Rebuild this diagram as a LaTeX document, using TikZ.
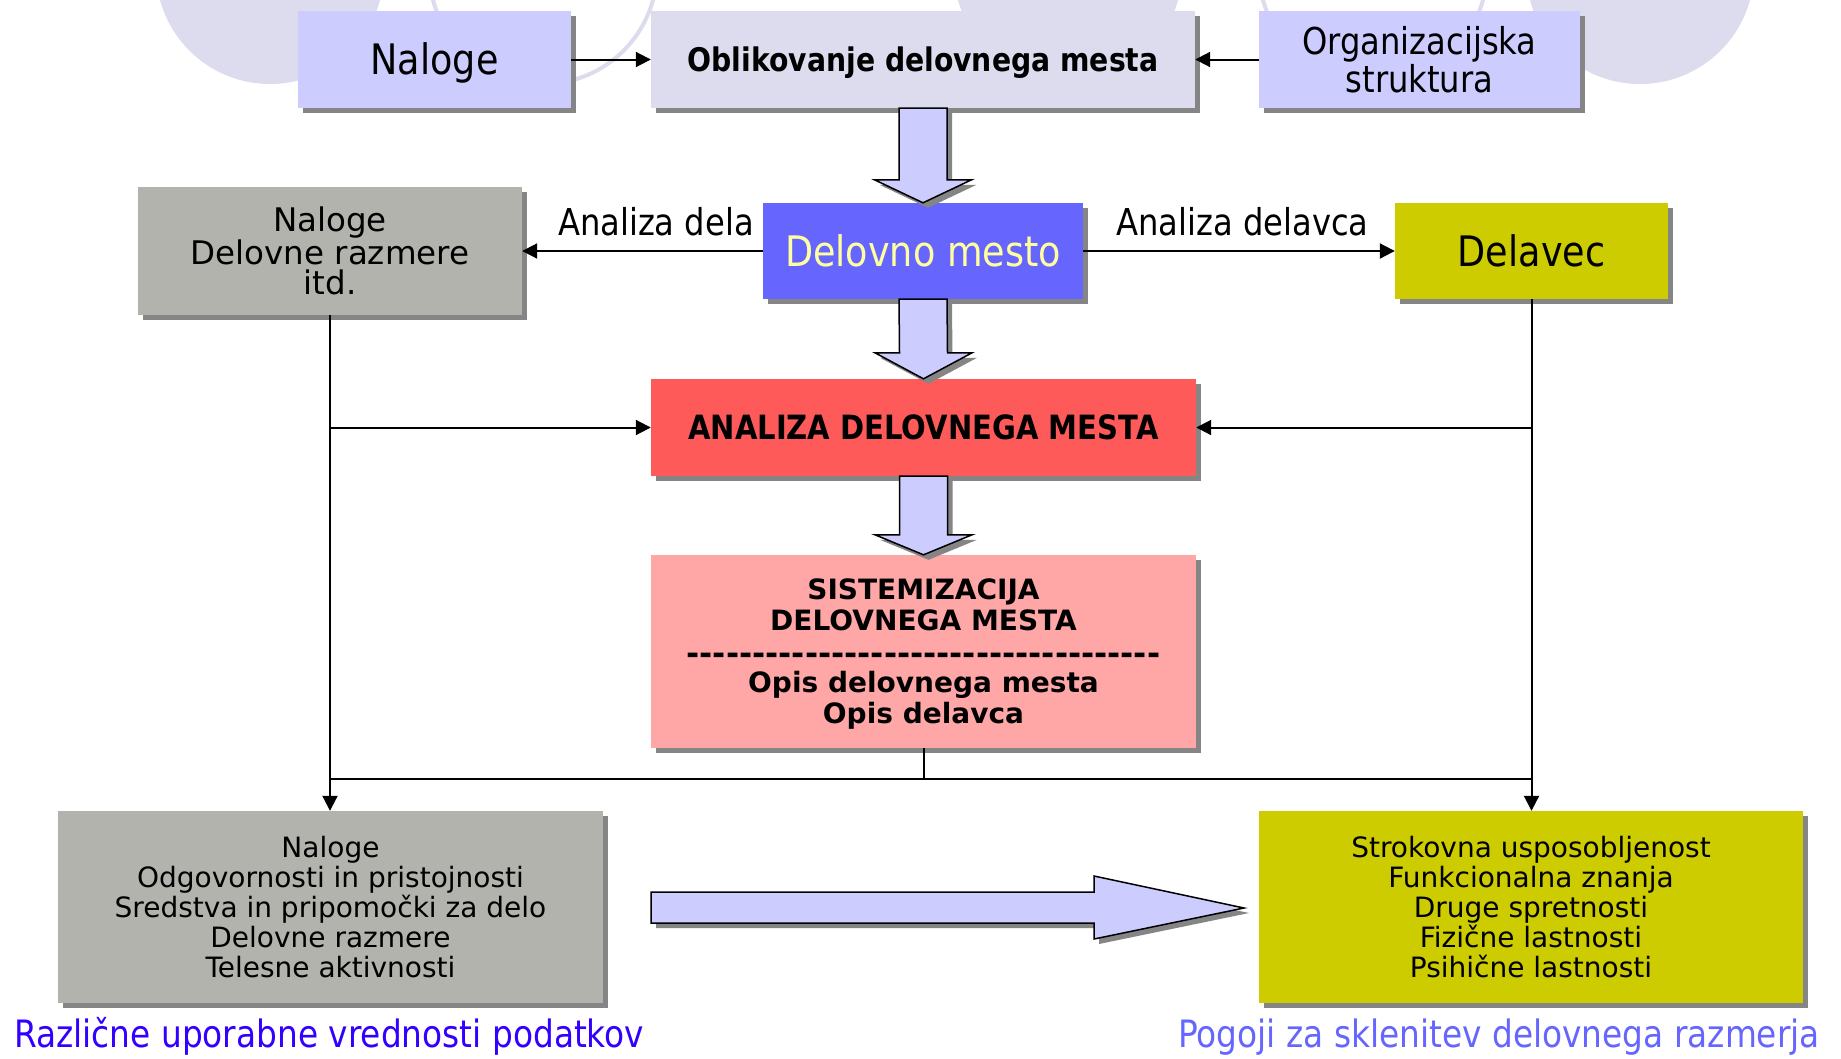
\documentclass[tikz,border=0pt]{standalone}
\usepackage{fontspec}
\setmainfont{DejaVu Sans}
\newfontfamily\tah[FakeStretch=0.87]{DejaVu Sans}
\newfontfamily\dvs{DejaVu Sans}
\usetikzlibrary{arrows.meta,shadows,calc}
\definecolor{lav}{HTML}{DCDCEE}
\definecolor{peri}{HTML}{CCCCFF}
\definecolor{grbox}{HTML}{B3B3AD}
\definecolor{shgray}{HTML}{858585}
\definecolor{blu}{HTML}{6666FF}
\definecolor{lightyel}{HTML}{FFFFA0}
\definecolor{yel}{HTML}{CCCC00}
\definecolor{redbox}{HTML}{FF5A5A}
\definecolor{pinkbox}{HTML}{FFA6A6}
\definecolor{capa}{HTML}{3300FF}
\definecolor{capb}{HTML}{6666FF}
\newcommand\fsz[2]{\fontsize{#1pt}{#2pt}\selectfont}
\newcommand\dashrow{\foreach \i in {1,...,36}{-\kern0pt}}
\newcommand\bigdown[3]{%
  \draw[blockarr] ($(#1)+(-24,0)$) -- ($(#1)+(24,0)$) -- ($(#2)+(24,-#3)$) -- ($(#2)+(48.5,-#3)$)
     -- (#2) -- ($(#2)+(-48.5,-#3)$) -- ($(#2)+(-24,-#3)$) -- cycle;}
\begin{document}
\begin{tikzpicture}[x=1pt,y=-1pt,
  box/.style={inner sep=0pt, align=center, drop shadow={shadow xshift=5pt,shadow yshift=-5pt,opacity=1,fill=shgray}},
  dim/.style 2 args={minimum width=#1pt, minimum height=#2pt},
  capc/.style={text height=#1pt, text depth=0pt},
  conn/.style={line width=2pt, -{Triangle[length=15pt,width=15pt]}},
  plainline/.style={line width=2pt},
  blockarr/.style={fill=peri, draw=black, line width=1.5pt, line join=miter,
     drop shadow={shadow xshift=5pt,shadow yshift=-5pt,opacity=1,fill=shgray}},
  lbl/.style={inner sep=0pt, font=\tah\fsz{37}{40}},
  capt/.style={inner sep=0pt, font=\tah\fsz{37.7}{40}},
]
\fill[white] (0,0) rectangle (1841,1058);
\useasboundingbox (0,0) rectangle (1841,1058);

% background circles
\fill[lav] (270,-30) circle[radius=114];
\draw[lav, line width=4pt] (543,-30) circle[radius=114];
\fill[lav] (1068,-30) circle[radius=114];
\draw[lav, line width=4pt] (1373,-30) circle[radius=114];
\fill[lav] (1640,-30) circle[radius=114];

% boxes
\node[box, fill=peri, dim={273}{97}, capc=30.7, font=\tah\fsz{42}{44}] (nal) at (434.5,59.5) {Naloge};
\node[box, fill=lav, dim={544}{97}, capc=23.7, font=\tah\bfseries\fsz{32.5}{34}] (obl) at (923,59.5) {Oblikovanje delovnega mesta};
\node[box, fill=peri, dim={321}{97}, font=\tah\fsz{37}{38}] (org) at (1419.5,59.5) {Organizacijska\\struktura};

\node[box, fill=grbox, dim={384}{128}, font=\dvs\fsz{32.5}{30}] (gr1) at (330,251) {Naloge\\Delovne razmere\\itd.};
\node[box, fill=blu, text=lightyel, dim={320}{96}, capc=30.7, font=\tah\fsz{42}{44}] (dm) at (923,251) {Delovno mesto};
\node[box, fill=yel, dim={273}{96}, capc=30.7, font=\tah\fsz{42}{44}] (dv) at (1531.5,251) {Delavec};

\node[box, fill=redbox, dim={545}{97}, capc=24.3, font=\tah\bfseries\fsz{33.4}{35}] (an) at (923.5,427.5) {ANALIZA DELOVNEGA MESTA};
\node[box, fill=pinkbox, dim={545}{193}, font=\dvs\bfseries\fsz{28}{30.5}] (si) at (923.5,651.5)
  {\rule{0pt}{26pt}SISTEMIZACIJA\\DELOVNEGA MESTA\\[4pt]{\fsz{31.7}{30.5}\dashrow}\\[-2.5pt]Opis delovnega mesta\\Opis delavca};

\node[box, fill=grbox, dim={545}{192}, font=\dvs\fsz{28}{30}] (bl) at (330.5,907)
  {Naloge\\Odgovornosti in pristojnosti\\Sredstva in pripomočki za delo\\Delovne razmere\\Telesne aktivnosti};
\node[box, fill=yel, dim={544}{192}, font=\dvs\fsz{28}{30}] (br) at (1531,907)
  {Strokovna usposobljenost\\Funkcionalna znanja\\Druge spretnosti\\Fizične lastnosti\\Psihične lastnosti};

% labels
\node[lbl, anchor=base east] (l1) at (754,235) {Analiza dela};
\node[lbl, anchor=base west] (l2) at (1116,235) {Analiza delavca};
\node[capt, anchor=base west, text=capa] (c1) at (14,1047) {Različne uporabne vrednosti podatkov};
\node[capt, anchor=base east, text=capb] (c2) at (1820,1047) {Pogoji za sklenitev delovnega razmerja};

% connectors
\draw[conn] (nal.east) -- (obl.west);
\draw[conn] (org.west) -- (obl.east);
\draw[conn] (dm.west) -- (gr1.east);
\draw[conn] (dm.east) -- (dv.west);
\draw[conn] (gr1.south) -- (gr1.south |- bl.north);
\draw[conn] (dv.south) -- (dv.south |- br.north);
\draw[conn] (gr1.south |- an.west) -- (an.west);
\draw[conn] (dv.south |- an.east) -- (an.east);
\coordinate (jy) at (0,779);
\draw[plainline] (si.south) -- (si.south |- jy);
\draw[plainline] (gr1.south |- jy) -- (dv.south |- jy);

% block arrows
\bigdown{obl.south}{dm.north}{23}
\bigdown{dm.south}{an.north}{26}
\bigdown{an.south}{si.north}{20}
\draw[blockarr] (651,892) -- (1094,892) -- (1094,876) -- (1244,908) -- (1094,939) -- (1094,923) -- (651,923) -- cycle;
\end{tikzpicture}
\end{document}
